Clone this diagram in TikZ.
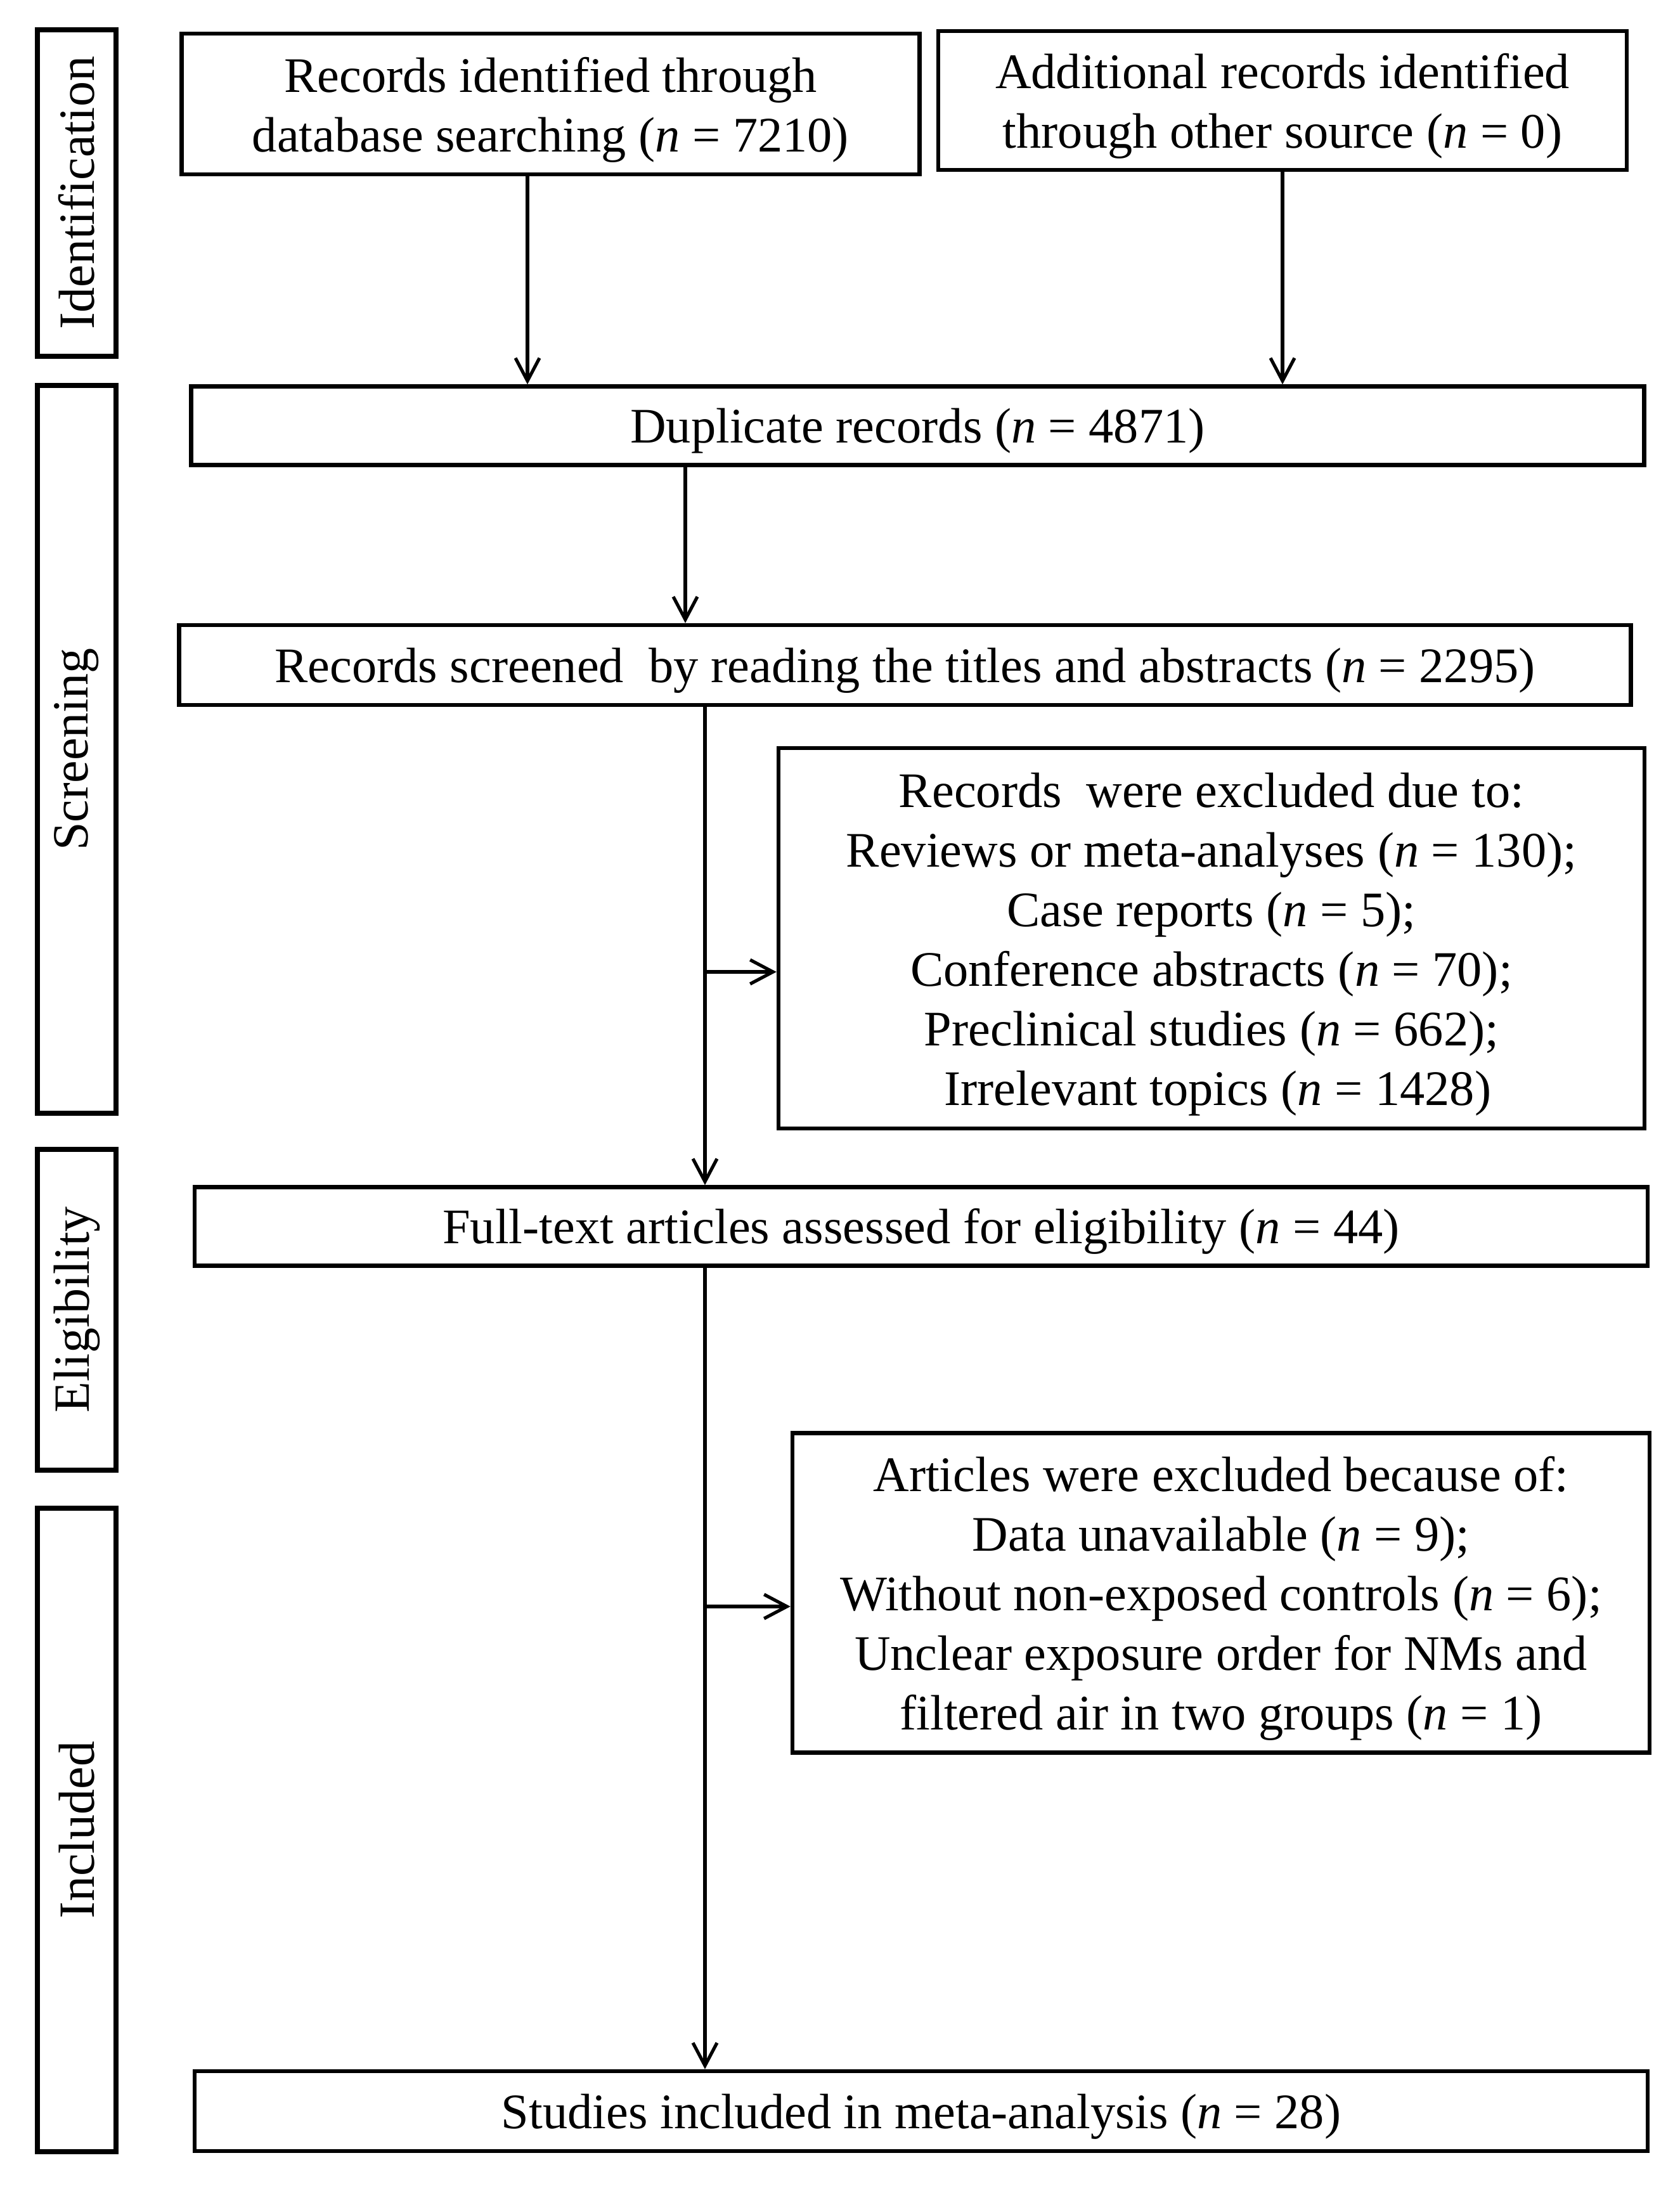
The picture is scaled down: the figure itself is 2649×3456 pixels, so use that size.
\documentclass[tikz,border=0pt]{standalone}
\usepackage{fontspec}
\setmainfont{Liberation Serif}
\usetikzlibrary{arrows.meta}
\newcommand\lowertext{\rule{0pt}{17.8pt}}
\newcommand\lowermulti{\rule{0pt}{18.3pt}}
\begin{document}
\begin{tikzpicture}[x=0.25pt,y=-0.25pt,
  mbox/.style={draw, line width=1.6pt, align=center, inner sep=0pt,
    font=\fontsize{19.6}{23.5}\selectfont},
  box/.style={mbox, execute at begin node=\lowertext},
  lbl/.style={draw, line width=2pt, rotate=90, inner sep=0pt,
    minimum height=31pt, font=\fontsize{20}{23}\selectfont},
  arr/.style={line width=1.3pt, -{Straight Barb[length=9pt,width=9.5pt]}},
  ]
\useasboundingbox[fill=white] (0,0) rectangle (2649,3456);

% stage labels
\node[lbl, minimum width=128.75pt] (lid)  at (121,304.5)  {Identification};
\node[lbl, minimum width=287pt]    (lsc)  at (121,1182)   {Screening};
\node[lbl, minimum width=126.5pt]  (lel)  at (121,2066)   {Eligibility};
\node[lbl, minimum width=253.75pt] (lin)  at (121,2886.5) {Included};

% boxes
\node[mbox, minimum width=291pt, minimum height=55.5pt] (srcA) at (868.5,164)
  {\lowermulti Records identified through\\database searching (\textit{n} = 7210)};
\node[mbox, minimum width=271.5pt, minimum height=54.75pt] (srcB) at (2023,158.5)
  {\lowermulti Additional records identified\\through other source (\textit{n} = 0)};
\node[box, minimum width=573pt, minimum height=31pt] (dup) at (1447.5,671.5)
  {Duplicate records (\textit{n} = 4871)};
\node[box, minimum width=572.5pt, minimum height=31.5pt] (scr) at (1427.5,1049)
  {Records screened\ \ by reading the titles and abstracts (\textit{n} = 2295)};
\node[mbox, minimum width=341.5pt, minimum height=150pt] (ex1) at (1911,1480)
  {\lowermulti Records\ \ were excluded due to:\\
   Reviews or meta-analyses (\textit{n} = 130);\\
   Case reports (\textit{n} = 5);\\
   Conference abstracts (\textit{n} = 70);\\
   Preclinical studies (\textit{n} = 662);\\
   \ Irrelevant topics (\textit{n} = 1428)};
\node[box, minimum width=573pt, minimum height=31pt] (ft) at (1453,1934.5)
  {Full-text articles assessed for eligibility (\textit{n} = 44)};
\node[mbox, minimum width=338pt, minimum height=126pt] (ex2) at (1926,2512.5)
  {\lowermulti Articles were excluded because of:\\
   Data unavailable (\textit{n} = 9);\\
   Without non-exposed controls (\textit{n} = 6);\\
   Unclear exposure order for NMs and\\
   filtered air in two groups (\textit{n} = 1)};
\node[box, minimum width=573pt, minimum height=31.5pt] (inc) at (1453,3330)
  {Studies included in meta-analysis (\textit{n} = 28)};

% connector positions
\coordinate (xa) at (832,0);
\coordinate (xb) at (2023,0);
\coordinate (xd) at (1081,0);
\coordinate (xt) at (1112,0);
\coordinate (b1) at (1112,1533);
\coordinate (b2) at (1112,2534);

\draw[arr] (srcA.south -| xa) -- (dup.north -| xa);
\draw[arr] (srcB.south -| xb) -- (dup.north -| xb);
\draw[arr] (dup.south -| xd) -- (scr.north -| xd);
\draw[arr] (scr.south -| xt) -- (ft.north -| xt);
\draw[arr] (b1) -- (b1 -| ex1.west);
\draw[arr] (ft.south -| xt) -- (inc.north -| xt);
\draw[arr] (b2) -- (b2 -| ex2.west);
\end{tikzpicture}
\end{document}
